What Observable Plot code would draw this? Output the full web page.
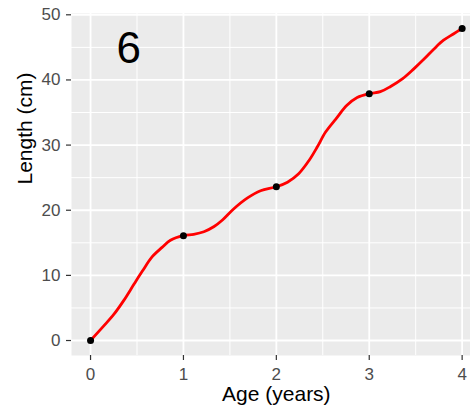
<!DOCTYPE html>
<html>
<head>
<meta charset="utf-8">
<script src="https://cdn.jsdelivr.net/npm/d3@7"></script>
<script src="https://cdn.jsdelivr.net/npm/@observablehq/plot@0.6"></script>
<style>
  html, body { margin: 0; padding: 0; background: white; }
</style>
</head>
<body>
<div id="chart"></div>
<script>
// Observed points
const pointAge = [0, 1, 2, 3, 4];
const pointLength = [0, 16.1, 23.6, 37.9, 47.9];

// Fitted red curve
const curveAge = [0, 0.14, 0.25, 0.36, 0.47, 0.56, 0.66, 0.77, 0.86, 1.0, 1.11, 1.22, 1.33, 1.42, 1.54, 1.69, 1.83, 2.0, 2.12, 2.24, 2.35, 2.44, 2.53, 2.64, 2.76, 2.87, 3.0, 3.12, 3.23, 3.36, 3.48, 3.59, 3.70, 3.80, 3.91, 4.0];
const curveLength = [0, 2.2, 4.0, 6.2, 8.7, 10.7, 12.8, 14.3, 15.4, 16.1, 16.3, 16.7, 17.5, 18.5, 20.2, 21.9, 23.0, 23.6, 24.3, 25.6, 27.6, 29.7, 32.0, 34.0, 36.1, 37.3, 37.9, 38.2, 39.0, 40.2, 41.7, 43.2, 44.8, 46.1, 47.1, 47.9];

// Ticks
const xTicks = [0, 1, 2, 3, 4];
const yTicks = [0, 10, 20, 30, 40, 50];
const xMinor = [0.5, 1.5, 2.5, 3.5];
const yMinor = [5, 15, 25, 35, 45];

// Texts
const panelLabel = "6";
const panelLabelAge = 0.41;
const panelLabelLength = 44.7;
const xTitle = "Age (years)";
const yTitle = "Length (cm)";

const xDomain = [-0.205, 4.09];
const yDomain = [-2.3, 50.2];

const points = pointAge.map((a, i) => ({age: a, length: pointLength[i]}));
const curve = curveAge.map((a, i) => ({age: a, length: curveLength[i]}));

const chart = Plot.plot({
  width: 470,
  height: 418,
  marginLeft: 71,
  marginRight: 0,
  marginTop: 13,
  marginBottom: 63,
  style: {fontFamily: "'Liberation Sans', Arial, sans-serif", background: "white"},
  x: {domain: xDomain},
  y: {domain: yDomain},
  marks: [
    Plot.frame({fill: "#EBEBEB", stroke: null}),
    Plot.gridX(xMinor, {stroke: "white", strokeOpacity: 1, strokeWidth: 1}),
    Plot.gridY(yMinor, {stroke: "white", strokeOpacity: 1, strokeWidth: 1}),
    Plot.gridX(xTicks, {stroke: "white", strokeOpacity: 1, strokeWidth: 1.8}),
    Plot.gridY(yTicks, {stroke: "white", strokeOpacity: 1, strokeWidth: 1.8}),
    Plot.axisX(xTicks, {tickSize: 5, tickPadding: 7, fontSize: 17, stroke: "#333333", strokeWidth: 1.2, fill: "#4D4D4D", label: null, tickFormat: d => String(d)}),
    Plot.axisY(yTicks, {tickSize: 5, tickPadding: 6, fontSize: 17, stroke: "#333333", strokeWidth: 1.2, fill: "#4D4D4D", label: null, tickFormat: d => String(d)}),
    Plot.line(curve, {x: "age", y: "length", stroke: "#FF0000", strokeWidth: 2.8, curve: "catmull-rom"}),
    Plot.dot(points, {x: "age", y: "length", r: 3.5, fill: "black", stroke: null}),
    Plot.text([{age: panelLabelAge, length: panelLabelLength, label: panelLabel}], {x: "age", y: "length", text: "label", fontSize: 44, fill: "black", lineAnchor: "middle"}),
    Plot.text([{x: (xDomain[0] + 4.205) / 2, label: xTitle}], {x: "x", text: "label", frameAnchor: "bottom", dy: 39, fontSize: 21, fill: "black", lineAnchor: "middle"}),
    Plot.text([{y: (yDomain[0] + yDomain[1]) / 2, label: yTitle}], {y: "y", text: "label", frameAnchor: "left", dx: -46, rotate: -90, fontSize: 21, fill: "black", lineAnchor: "middle"})
  ]
});
document.getElementById("chart").appendChild(chart);
</script>
</body>
</html>
